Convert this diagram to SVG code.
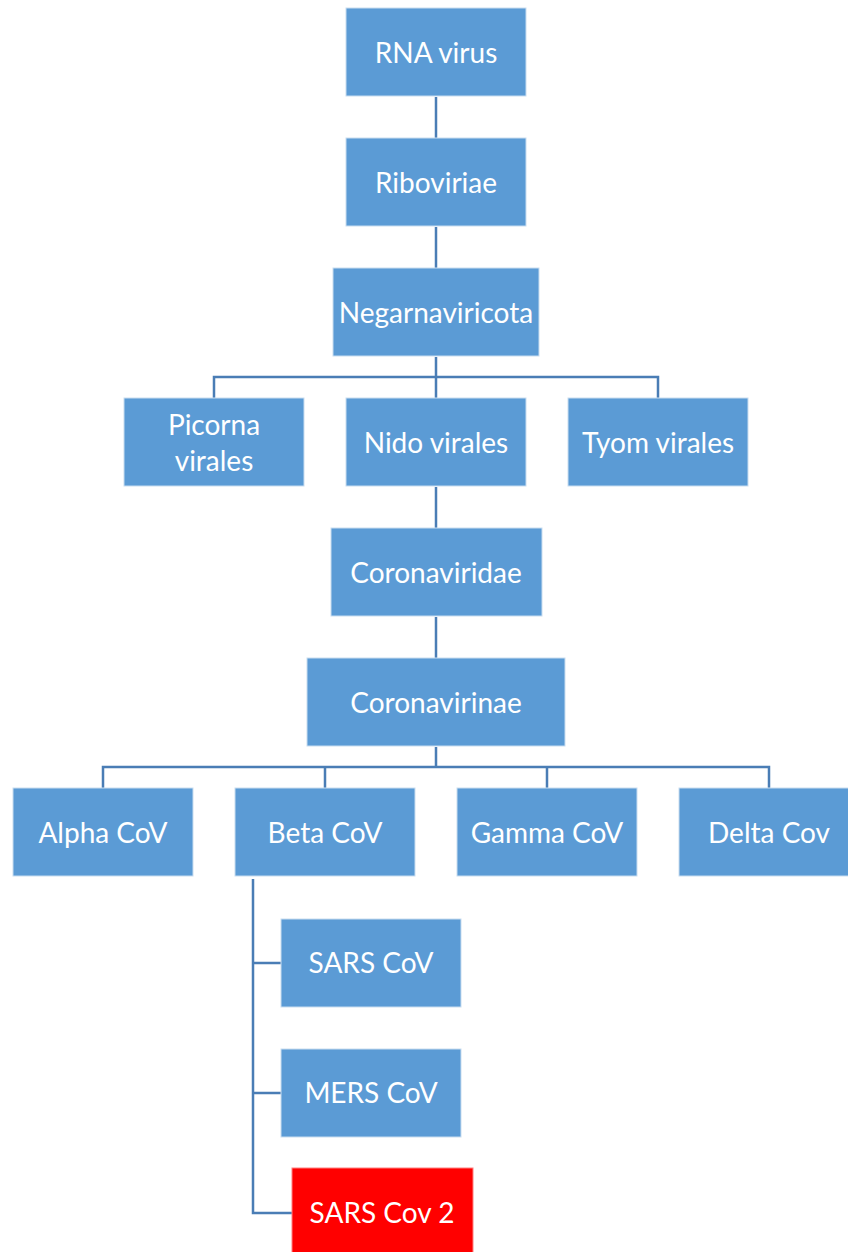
<svg xmlns="http://www.w3.org/2000/svg" width="848" height="1252" viewBox="0 0 848 1252">
<style>
.box{fill:#5B9BD5;stroke:#C9DDF0;stroke-width:1}
.red{fill:#FF0000;stroke:#FF8080;stroke-width:1}
.t{font-family:Lato,"Open Sans","Liberation Sans",sans-serif;font-size:28px;fill:#FFFFFF;text-anchor:middle;dominant-baseline:central}
.c{fill:none;stroke:#4A7DB5;stroke-width:2.5}
</style>
<rect width="848" height="1252" fill="#FFFFFF"/>
<g id="connectors">
<line class="c" x1="436" y1="97" x2="436" y2="138"/>
<line class="c" x1="436" y1="227" x2="436" y2="268"/>
<path class="c" d="M436 357 V398 M214 398 V377 H658 V398"/>
<line class="c" x1="436" y1="487" x2="436" y2="528"/>
<line class="c" x1="436" y1="617" x2="436" y2="658"/>
<path class="c" d="M436 747 V767 M103 788 V767 H769 V788 M325 767 V788 M547 767 V788"/>
<path class="c" d="M253 879 V1213 H292 M253 963 H281 M253 1093 H281"/>
</g>
<g id="n-rna"><rect class="box" x="346" y="8" width="180" height="88"/><text class="t" x="436" y="52">RNA virus</text></g>
<g id="n-riboviriae"><rect class="box" x="346" y="138" width="180" height="88"/><text class="t" x="436" y="182">Riboviriae</text></g>
<g id="n-negarnaviricota"><rect class="box" x="333" y="268" width="206" height="88"/><text class="t" x="436" y="312">Negarnaviricota</text></g>
<g id="n-picorna"><rect class="box" x="124" y="398" width="180" height="88"/><text class="t" x="214" y="424">Picorna</text><text class="t" x="214" y="460">virales</text></g>
<g id="n-nido"><rect class="box" x="346" y="398" width="180" height="88"/><text class="t" x="436" y="442">Nido virales</text></g>
<g id="n-tyom"><rect class="box" x="568" y="398" width="180" height="88"/><text class="t" x="658" y="442">Tyom virales</text></g>
<g id="n-coronaviridae"><rect class="box" x="331" y="528" width="211" height="88"/><text class="t" x="436" y="572">Coronaviridae</text></g>
<g id="n-coronavirinae"><rect class="box" x="307" y="658" width="258" height="88"/><text class="t" x="436" y="702">Coronavirinae</text></g>
<g id="n-alpha"><rect class="box" x="13" y="788" width="180" height="88"/><text class="t" x="103" y="832">Alpha CoV</text></g>
<g id="n-beta"><rect class="box" x="235" y="788" width="180" height="88"/><text class="t" x="325" y="832">Beta CoV</text></g>
<g id="n-gamma"><rect class="box" x="457" y="788" width="180" height="88"/><text class="t" x="547" y="832">Gamma CoV</text></g>
<g id="n-delta"><rect class="box" x="679" y="788" width="180" height="88"/><text class="t" x="769" y="832">Delta Cov</text></g>
<g id="n-sars"><rect class="box" x="281" y="919" width="180" height="88"/><text class="t" x="371" y="962">SARS CoV</text></g>
<g id="n-mers"><rect class="box" x="281" y="1049" width="180" height="88"/><text class="t" x="371" y="1092">MERS CoV</text></g>
<g id="n-sars2"><rect class="red" x="292" y="1168" width="181" height="90"/><text class="t" x="382" y="1212">SARS Cov 2</text></g>
</svg>
